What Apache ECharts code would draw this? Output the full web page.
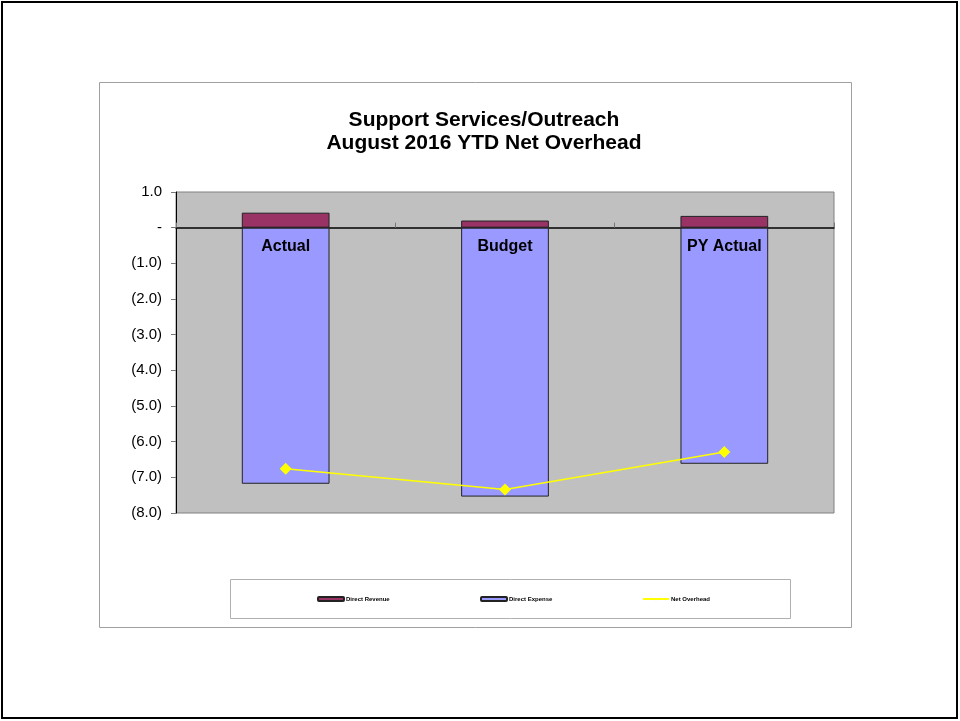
<!DOCTYPE html>
<html>
<head>
<meta charset="utf-8">
<script src="https://cdn.jsdelivr.net/npm/echarts@6/dist/echarts.min.js"></script>
<style>
  html, body { margin: 0; padding: 0; background: #fff; }
  #chart { width: 960px; height: 721px; }
</style>
</head>
<body>
<div id="chart"></div>
<script>
// Net overhead by scenario, in millions
const categories = ['Actual', 'Budget', 'PY Actual'];
const directRevenue = [0.42, 0.20, 0.33];
const directExpense = [-7.18, -7.54, -6.62];
const netOverhead = [-6.76, -7.34, -6.29];

const yMin = -8, yMax = 1, yStep = 1;

function fmtTick(v) {
  if (Math.abs(v) < 1e-9) return '-';
  const s = Math.abs(v).toFixed(1);
  return v < 0 ? '(' + s + ')' : s;
}

const chart = echarts.init(document.getElementById('chart'));
const font = 'Liberation Sans, Arial, sans-serif';

const legendBase = {
  itemWidth: 26, itemHeight: 4, itemGap: 2,
  textStyle: { fontFamily: font, fontSize: 6, fontWeight: 'bold', color: '#000', padding: [0, 0, 0, -3] }
};

chart.setOption({
  animation: false,
  backgroundColor: '#ffffff',
  title: {
    text: 'Support Services/Outreach\nAugust 2016 YTD Net Overhead',
    left: 479, top: 104, textAlign: 'center',
    textStyle: { fontFamily: font, fontSize: 21, fontWeight: 'bold', color: '#000', lineHeight: 23 }
  },
  grid: {
    left: 176, top: 192, width: 658, height: 321,
    show: true, backgroundColor: '#c0c0c0', borderColor: '#808080', borderWidth: 1
  },
  legend: [
    Object.assign({ data: ['Direct Revenue'], left: 312, top: 591 }, legendBase),
    Object.assign({ data: ['Direct Expense'], left: 475, top: 591 }, legendBase),
    Object.assign({ data: ['Net Overhead'], left: 637, top: 591 }, legendBase)
  ],
  xAxis: {
    type: 'category',
    data: categories,
    axisLine: { onZero: true, lineStyle: { color: '#000', width: 1.5 } },
    axisTick: { show: true, length: 5, inside: true, lineStyle: { color: '#777' } },
    axisLabel: { show: false },
    splitLine: { show: false }
  },
  yAxis: {
    type: 'value', min: yMin, max: yMax, interval: yStep,
    axisLine: { show: true, lineStyle: { color: '#000' } },
    axisTick: { show: true, length: 5, lineStyle: { color: '#777' } },
    axisLabel: { fontFamily: font, fontSize: 15, color: '#000', margin: 14, formatter: fmtTick },
    splitLine: { show: false }
  },
  series: [
    {
      name: 'Direct Revenue', type: 'bar', stack: 'net', data: directRevenue,
      barWidth: '40%',
      itemStyle: { color: '#993366', borderColor: '#222', borderWidth: 1 }
    },
    {
      name: 'Direct Expense', type: 'bar', stack: 'net', data: directExpense,
      barWidth: '40%',
      itemStyle: { color: '#9999ff', borderColor: '#222', borderWidth: 1 },
      label: {
        show: true, position: 'insideTop', distance: 11, formatter: '{b}',
        fontFamily: font, fontSize: 16, fontWeight: 'bold', color: '#000'
      }
    },
    {
      name: 'Net Overhead', type: 'line', data: netOverhead,
      symbol: 'diamond', symbolSize: 12,
      lineStyle: { color: '#ffff00', width: 1.5 },
      itemStyle: { color: '#ffff00' }
    }
  ],
  graphic: [
    { type: 'rect', shape: { x: 2, y: 2, width: 955, height: 716 }, style: { fill: 'none', stroke: '#000', lineWidth: 2 }, silent: true },
    { type: 'rect', shape: { x: 99.5, y: 82.5, width: 752, height: 545 }, style: { fill: 'none', stroke: '#a0a0a0', lineWidth: 1 }, silent: true },
    { type: 'rect', shape: { x: 230.5, y: 579.5, width: 560, height: 39 }, style: { fill: 'none', stroke: '#b0b0b0', lineWidth: 1 }, silent: true }
  ]
});
</script>
</body>
</html>
